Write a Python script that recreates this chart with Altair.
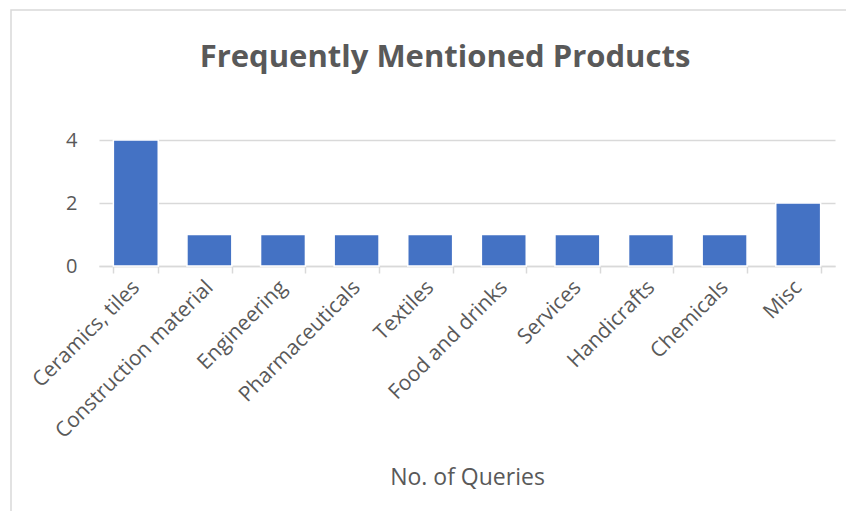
import altair as alt
import pandas as pd

categories = ["Ceramics, tiles", "Construction material", "Engineering", "Pharmaceuticals",
              "Textiles", "Food and drinks", "Services", "Handicrafts", "Chemicals", "Misc"]
queries = [4, 1, 1, 1, 1, 1, 1, 1, 1, 2]
y_ticks = [0, 2, 4]
chart_title = "Frequently Mentioned Products"

df = pd.DataFrame({"product": categories, "queries": queries})

FONT = "Open Sans"
TXT = "#595959"
GRID = "#d9d9d9"

bars = alt.Chart(df).mark_bar(color="#4472c4", stroke="white", strokeWidth=1.5).encode(
    x=alt.X("product:N", sort=categories,
            scale=alt.Scale(paddingInner=0.39, paddingOuter=0.195),
            axis=alt.Axis(title="No. of Queries", labelAngle=-45, labelAlign="right",
                          labelBaseline="middle", labelPadding=11, labelFontSize=21,
                          labelColor=TXT, labelFont=FONT, tickBand="extent",
                          tickSize=7, tickColor=GRID, tickWidth=1.5,
                          domainColor=GRID, domainWidth=1.5, grid=False,
                          titleFont=FONT, titleFontSize=23, titleFontWeight="normal",
                          titleColor=TXT, titleY=211, titleBaseline="middle",
                          labelOverlap=False, labelLimit=0)),
    y=alt.Y("queries:Q", scale=alt.Scale(domain=[0, 4], nice=False),
            axis=alt.Axis(title=None, values=y_ticks, domain=False, ticks=False,
                          labelPadding=22, labelFontSize=20, labelColor=TXT,
                          labelFont=FONT, gridColor=GRID, gridWidth=1.5)),
)

frame = alt.Chart(pd.DataFrame({"a": [0]})).mark_rect(
    fill="transparent", stroke=GRID, strokeWidth=1.5
).encode(x=alt.value(-88), x2=alt.value(900), y=alt.value(-130), y2=alt.value(600))

title = alt.Chart(pd.DataFrame({"t": [chart_title]})).mark_text(
    font=FONT, fontSize=31, fontWeight="bold", color=TXT, align="center",
    baseline="alphabetic"
).encode(text="t:N", x=alt.value(346), y=alt.value(-73))

chart = alt.layer(frame, bars, title).properties(
    width=736, height=126,
    autosize=alt.AutoSizeParams(type="none"),
    padding={"left": 91, "top": 132, "right": 11, "bottom": 245},
).configure_view(stroke=None)

chart.save("out.html", embed_options={"renderer": "svg", "actions": False})
